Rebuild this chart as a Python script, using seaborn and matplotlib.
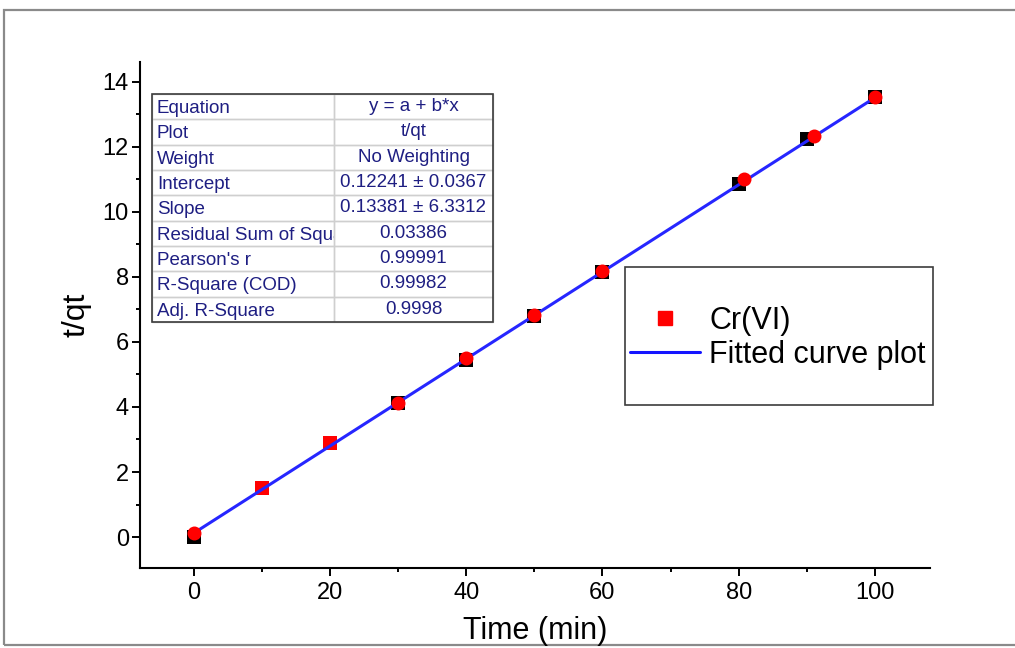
import matplotlib
matplotlib.use("Agg")
import matplotlib.pyplot as plt
from matplotlib.patches import Rectangle
from matplotlib.lines import Line2D
import numpy as np
import pandas as pd
import seaborn as sns

# Pseudo-second-order kinetics, Cr(VI): t/qt against time
time_min = [0, 10, 20, 30, 40, 50, 60, 80, 90, 100]
t_qt = [0.00, 1.50, 2.89, 4.12, 5.44, 6.80, 8.15, 10.86, 12.22, 13.51]

# highlighted Cr(VI) points
sq_time = [10, 20]
sq_tqt = [1.50, 2.89]
circ_time = [0, 30, 40, 50, 60, 80.8, 91, 100]
circ_tqt = [0.12, 4.11, 5.50, 6.82, 8.17, 10.99, 12.34, 13.53]

# linear fit y = a + b*x
intercept = 0.12241
slope = 0.13381

table_labels = ["Equation", "Plot", "Weight", "Intercept", "Slope",
                "Residual Sum of Squares", "Pearson's r", "R-Square (COD)",
                "Adj. R-Square"]
table_values = ["y = a + b*x", "t/qt", "No Weighting", "0.12241 \u00b1 0.0367",
                "0.13381 \u00b1 6.3312", "0.03386", "0.99991", "0.99982", "0.9998"]

legend_labels = ["Cr(VI)", "Fitted curve plot"]
x_ticks = [0, 20, 40, 60, 80, 100]
y_ticks = [0, 2, 4, 6, 8, 10, 12, 14]

sns.set_theme(style="ticks")
plt.rcParams["font.family"] = ["Liberation Sans", "DejaVu Sans"]

fig = plt.figure(figsize=(10.15, 6.48), dpi=100)
ax = fig.add_axes([140 / 1015, 1 - 568 / 648, 790 / 1015, 506 / 648])

marker_s = 101
blue = "#2626ff"

sns.scatterplot(x=time_min, y=t_qt, marker="s", color="black", s=marker_s,
                linewidth=0, ax=ax, zorder=2, legend=False)
sns.scatterplot(x=sq_time, y=sq_tqt, marker="s", color="#ff0000", s=marker_s,
                linewidth=0, ax=ax, zorder=3, legend=False)

fit = pd.DataFrame({"x": np.linspace(min(time_min), max(time_min), 50)})
fit["y"] = intercept + slope * fit["x"]
sns.lineplot(data=fit, x="x", y="y", color=blue, lw=2.2, ax=ax, zorder=4,
             legend=False)

sns.scatterplot(x=circ_time, y=circ_tqt, marker="o", color="#ff0000", s=marker_s,
                linewidth=0, ax=ax, zorder=5, legend=False)

ax.set_xlim(-7.9, 108.1)
ax.set_ylim(-0.95, 14.6)
ax.set_xticks(x_ticks)
ax.set_yticks(y_ticks)
ax.set_xticks(np.arange(10, 100, 20), minor=True)
ax.set_yticks(np.arange(1, 15, 2), minor=True)
ax.tick_params(which="major", length=6, width=1.4, labelsize=17, pad=4,
               color="black", labelcolor="black")
ax.tick_params(which="minor", length=3, width=1.4, color="black")
ax.tick_params(axis="y", pad=2)
for side in ("top", "right"):
    ax.spines[side].set_visible(False)
for side in ("left", "bottom"):
    ax.spines[side].set_linewidth(1.5)
    ax.spines[side].set_color("black")

ax.set_xlabel("Time (min)", fontsize=22, labelpad=9, color="black")
ax.set_ylabel("t/qt", fontsize=23, labelpad=8, color="black")

# fit parameter table
tx0, txm, tx1 = 12 / 790, 194 / 790, 353 / 790
ty_top, ty_bot = 474 / 506, 246 / 506
rh = (ty_top - ty_bot) / len(table_labels)
navy = "#1e1e82"
for i, (lab, val) in enumerate(zip(table_labels, table_values)):
    y0 = ty_top - (i + 1) * rh
    cell = Rectangle((tx0, y0), txm - tx0, rh, transform=ax.transAxes,
                     facecolor="none", edgecolor="#cfcfcf", lw=1, zorder=6)
    ax.add_patch(cell)
    ax.add_patch(Rectangle((txm, y0), tx1 - txm, rh, transform=ax.transAxes,
                           facecolor="none", edgecolor="#cfcfcf", lw=1, zorder=6))
    t = ax.text(tx0 + 5 / 790, y0 + rh / 2, lab, transform=ax.transAxes,
                ha="left", va="center_baseline", fontsize=13.5, color=navy, zorder=7)
    t.set_clip_path(cell)
    t.set_clip_on(True)
    ax.text((txm + tx1) / 2, y0 + rh / 2 + 2 / 506, val, transform=ax.transAxes,
            ha="center", va="center_baseline", fontsize=13.5, color=navy, zorder=7)
ax.add_patch(Rectangle((tx0, ty_bot), tx1 - tx0, ty_top - ty_bot,
                       transform=ax.transAxes, facecolor="none",
                       edgecolor="#3c3c3c", lw=1.2, zorder=8))

# legend with a separate frame
ax.add_patch(Rectangle((485 / 790, 163 / 506), 308 / 790, 138 / 506,
                       transform=ax.transAxes, facecolor="white",
                       edgecolor="#3c3c3c", lw=1.2, zorder=9, clip_on=False))
handles = [Line2D([], [], ls="none", marker="s", color="#ff0000", markersize=10),
           Line2D([], [], color="#1414ff", lw=2.2)]
leg = ax.legend(handles, legend_labels, loc="center left",
                bbox_to_anchor=(490 / 790, 230 / 506), frameon=False,
                fontsize=22, handlelength=2.29, handletextpad=0.3,
                labelspacing=0.12, borderpad=0, borderaxespad=0)
leg.set_zorder(10)
for txt in leg.get_texts():
    txt.set_color("black")

# outer page frame
fig.add_artist(Rectangle((4 / 1015, 3 / 648), 1.1, 635 / 648,
                         transform=fig.transFigure, facecolor="none",
                         edgecolor="#8a8a8a", lw=1.6, zorder=0))

fig.savefig("out.png", dpi=100)
